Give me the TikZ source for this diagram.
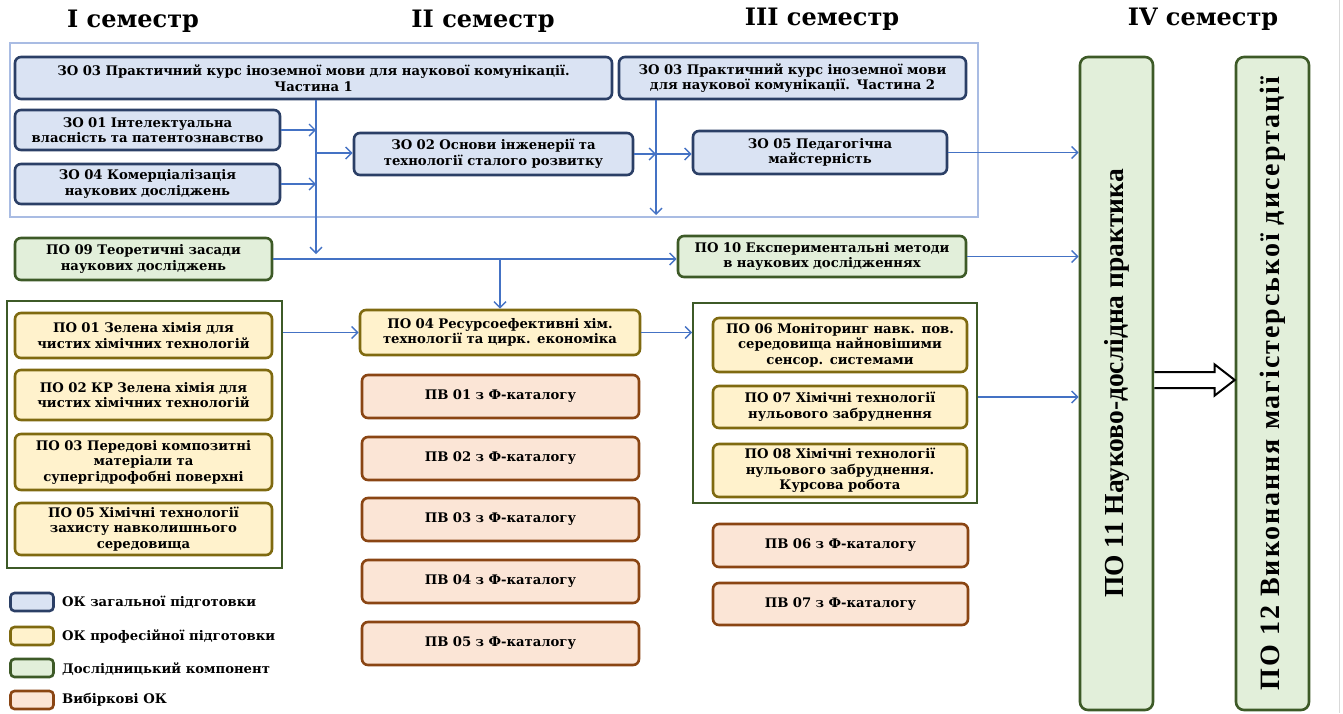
\documentclass[tikz,border=0pt]{standalone}
\usepackage{fontspec}
\setmainfont{DejaVu Serif}
\newfontfamily\vfont{Liberation Serif}
\newfontfamily\vfontw[LetterSpace=7]{Liberation Serif}
\usetikzlibrary{arrows.meta,calc}
\definecolor{bfill}{HTML}{DAE3F3}\definecolor{bdraw}{HTML}{2B3F66}
\definecolor{yfill}{HTML}{FFF2CC}\definecolor{ydraw}{HTML}{7F6A10}
\definecolor{gfill}{HTML}{E2EFDA}\definecolor{gdraw}{HTML}{3D5A27}
\definecolor{pfill}{HTML}{FBE5D6}\definecolor{pdraw}{HTML}{8A4513}
\definecolor{arr}{HTML}{4472C4}
\definecolor{outerc}{HTML}{A9BCE3}
\newcommand\bx[7]{%
  \pgfmathsetmacro\mybw{#5-#3}\pgfmathsetmacro\mybh{#6-#4}\pgfmathsetmacro\mytw{#5-#3-10}%
  \pgfmathsetmacro\mycx{(#3+#5)/2}\pgfmathsetmacro\mycy{(#4+#6)/2}%
  \node[#2, minimum width=\mybw pt, minimum height=\mybh pt, text width=\mytw pt] (#1) at (\mycx,\mycy) {#7};}
\begin{document}
\begin{tikzpicture}[x=1pt,y=-1pt,
  box/.style={draw, rounded corners=6pt, line width=2.6pt, align=center, inner sep=0pt,
    font=\bfseries\fontsize{13.2}{15.5}\selectfont},
  zo/.style={box, fill=bfill, draw=bdraw},
  po/.style={box, fill=yfill, draw=ydraw},
  gr/.style={box, fill=gfill, draw=gdraw},
  pv/.style={box, fill=pfill, draw=pdraw},
  grp/.style={draw=gdraw, line width=1.6pt, inner sep=0pt},
  ar/.style={draw=arr, line width=1.4pt, -{Straight Barb[length=6pt,width=12pt,line width=1.4pt]}},
  hollow/.style={draw=black, fill=white, line width=2pt, line join=miter},
  hdr/.style={font=\bfseries\fontsize{24}{27}\selectfont},
  leg/.style={draw, rounded corners=4pt, line width=2.6pt, minimum width=43pt, minimum height=18pt, inner sep=0pt},
  legt/.style={anchor=west, font=\bfseries\fontsize{13.2}{15}\selectfont, inner sep=0pt},
  vbox/.style={draw=gdraw, fill=gfill, rounded corners=8pt, line width=2.6pt, rotate=90,
    minimum width=653pt, minimum height=73pt, inner sep=0pt}]
\useasboundingbox (0,0) rectangle (1343,713);
\draw[gray!30, line width=1pt] (1339,0) -- (1339,713);

% headers
\node[hdr] (h1) at (133,21) {I семестр};
\node[hdr] (h2) at (483,21) {II семестр};
\node[hdr] (h3) at (822,19) {III семестр};
\node[hdr] (h4) at (1203,19) {IV семестр};

% containers
\bx{topgrp}{draw=outerc, line width=1.5pt, inner sep=0pt}{10}{43}{978}{217}{}
\bx{lgrp}{grp}{7}{301}{282}{568}{}
\bx{rgrp}{grp}{693}{303}{977}{503}{}

% general (blue)
\bx{zo03a}{zo}{15}{57}{612}{99}{ЗО 03 Практичний курс іноземної мови для наукової комунікації.\\ Частина 1}
\bx{zo03b}{zo}{619}{57}{966}{99}{ЗО 03 Практичний курс іноземної мови\\ для наукової комунікації. Частина 2}
\bx{zo01}{zo}{15}{110}{280}{150}{ЗО 01 Інтелектуальна\\ власність та патентознавство}
\bx{zo04}{zo}{15}{164}{280}{204}{ЗО 04 Комерціалізація\\ наукових досліджень}
\bx{zo02}{zo}{354}{133}{633}{175}{ЗО 02 Основи інженерії та\\ технології сталого розвитку}
\bx{zo05}{zo}{693}{131}{947}{174}{ЗО 05 Педагогічна\\ майстерність}

% research (green)
\bx{po09}{gr}{15}{238}{272}{280}{ПО 09 Теоретичні засади\\ наукових досліджень}
\bx{po10}{gr}{678}{236}{966}{277}{ПО 10 Експериментальні методи\\ в наукових дослідженнях}

% professional (yellow)
\bx{po01}{po}{15}{313}{272}{358}{ПО 01 Зелена хімія для\\ чистих хімічних технологій}
\bx{po02}{po}{15}{370}{272}{420}{ПО 02 КР Зелена хімія для\\ чистих хімічних технологій}
\bx{po03}{po}{15}{434}{272}{490}{ПО 03 Передові композитні\\ матеріали та\\ супергідрофобні поверхні}
\bx{po05}{po}{15}{503}{272}{555}{ПО 05 Хімічні технології\\ захисту навколишнього\\ середовища}
\bx{po04}{po}{360}{310}{640}{355}{ПО 04 Ресурсоефективні хім.\\ технології та цирк. економіка}
\bx{po06}{po}{713}{318}{967}{372}{ПО 06 Моніторинг навк. пов.\\ середовища найновішими\\ сенсор. системами}
\bx{po07}{po}{713}{386}{967}{428}{ПО 07 Хімічні технології\\ нульового забруднення}
\bx{po08}{po}{713}{444}{967}{497}{ПО 08 Хімічні технології\\ нульового забруднення.\\ Курсова робота}

% elective (pink)
\bx{pv01}{pv}{362}{375}{639}{418}{ПВ 01 з Ф-каталогу}
\bx{pv02}{pv}{362}{437}{639}{480}{ПВ 02 з Ф-каталогу}
\bx{pv03}{pv}{362}{498}{639}{541}{ПВ 03 з Ф-каталогу}
\bx{pv04}{pv}{362}{560}{639}{603}{ПВ 04 з Ф-каталогу}
\bx{pv05}{pv}{362}{622}{639}{665}{ПВ 05 з Ф-каталогу}
\bx{pv06}{pv}{713}{524}{968}{567}{ПВ 06 з Ф-каталогу}
\bx{pv07}{pv}{713}{583}{968}{625}{ПВ 07 з Ф-каталогу}

% semester IV
\node[vbox, font=\vfont\bfseries\fontsize{27.5}{30}\selectfont] (po11) at (1116.5,383.5) {ПО 11 Науково-дослідна практика};
\node[vbox, font=\vfontw\bfseries\fontsize{28}{30}\selectfont] (po12) at (1272.5,383.5) {ПО 12 Виконання магістерської дисертації};

% hollow arrow PO11 -> PO12
\coordinate (da) at (po11.south |- 0,380);
\coordinate (db) at (po12.north |- 0,380);
\draw[hollow] ($(da)+(0,-8)$) -- ($(db)+(-20,-8)$) -- ($(db)+(-20,-15.5)$) -- (db)
  -- ($(db)+(-20,15.5)$) -- ($(db)+(-20,8)$) -- ($(da)+(0,8)$);

% connectors
\coordinate (j1) at (316,153);
\coordinate (j1e) at (316,254);
\coordinate (j2) at (656,154);
\coordinate (j2e) at (656,215);
\draw[ar] (zo03a.south -| j1) -- (j1e);
\draw[ar] (zo01.east) -- (zo01.east -| j1);
\draw[ar] (zo04.east) -- (zo04.east -| j1);
\draw[ar] (j1) -- (j1 -| zo02.west);
\draw[ar] (zo03b.south -| j2) -- (j2e);
\draw[ar] (zo02.east) -- (zo02.east -| j2);
\draw[ar] (j2) -- (j2 -| zo05.west);
\draw[ar] (zo05.east) -- (zo05.east -| po11.north);
\draw[ar] (po09.east) -- (po09.east -| po10.west);
\draw[ar] (po09.east -| po04.north) -- (po04.north);
\draw[ar] (po10.east) -- (po10.east -| po11.north);
\draw[ar] (lgrp.east |- po04.west) -- (po04.west);
\draw[ar] (po04.east) -- (po04.east -| rgrp.west);
\draw[ar] ([yshift=6pt]rgrp.east) -- ([yshift=6pt]rgrp.east -| po11.north);

% legend
\node[leg, fill=bfill, draw=bdraw] (l1) at (32,602) {};
\node[leg, fill=yfill, draw=ydraw] (l2) at (32,636) {};
\node[leg, fill=gfill, draw=gdraw] (l3) at (32,668) {};
\node[leg, fill=pfill, draw=pdraw] (l4) at (32,700) {};
\node[legt] (t1) at (62,602) {ОК загальної підготовки};
\node[legt] (t2) at (62,636) {ОК професійної підготовки};
\node[legt] (t3) at (62,669) {Дослідницький компонент};
\node[legt] (t4) at (62,700) {Вибіркові ОК};
\end{tikzpicture}
\end{document}
